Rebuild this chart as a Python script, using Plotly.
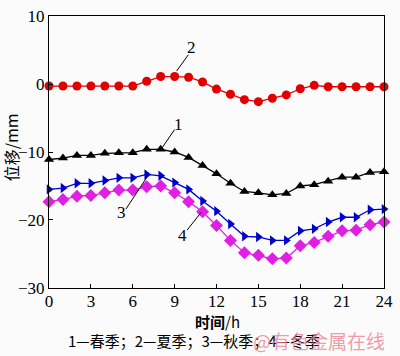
import plotly.graph_objects as go

hours = list(range(25))
x_ticks = [0, 3, 6, 9, 12, 15, 18, 21, 24]
y_ticks = [10, 0, -10, -20, -30]

spring = [-11.1, -10.9, -10.5, -10.5, -10.2, -10.1, -10.1, -9.6, -9.6, -10.0, -10.8,
          -12.0, -13.2, -14.6, -15.8, -16.0, -16.3, -16.1, -15.0, -14.8, -14.3,
          -13.7, -13.7, -13.0, -12.9]
summer = [-0.3, -0.3, -0.3, -0.3, -0.3, -0.3, -0.3, 0.4, 1.1, 1.1, 1.0,
          0.3, -0.75, -1.5, -2.3, -2.6, -2.1, -1.6, -0.7, -0.2, -0.4,
          -0.4, -0.4, -0.4, -0.4]
autumn = [-15.5, -15.3, -14.6, -14.6, -14.2, -13.8, -13.8, -13.3, -13.5, -14.5, -15.5,
          -17.2, -18.7, -20.6, -22.4, -22.5, -23.0, -23.0, -21.6, -21.3, -20.3,
          -19.6, -19.6, -18.5, -18.4]
winter = [-17.3, -17.0, -16.5, -16.4, -16.0, -15.6, -15.6, -15.1, -15.0, -16.0, -17.3,
          -18.8, -20.8, -23.0, -24.8, -25.2, -25.7, -25.6, -23.8, -23.3, -22.4,
          -21.6, -21.5, -20.7, -20.3]

series = [
    (spring, "#000000", "triangle-up", 9),
    (summer, "#e00000", "circle", 9),
    (autumn, "#0000cc", "triangle-right", 9),
    (winter, "#e020e0", "diamond", 10),
]

fig = go.Figure()
for vals, col, sym, sz in series:
    fig.add_trace(go.Scatter(x=hours, y=vals, mode="lines+markers",
                             line=dict(color=col, width=1.3),
                             marker=dict(symbol=sym, size=sz, color=col),
                             showlegend=False, cliponaxis=False))

serif = "Liberation Serif"
cjk = "Noto Sans CJK SC"

# label annotations: (text, text x, text y, line start, line end)
labels = [
    ("2", 10.2, 5.4, (9.98, 4.3), (9.14, 1.9)),
    ("1", 9.28, -6.0, (9.0, -6.7), (8.03, -9.6)),
    ("3", 5.16, -18.9, (5.51, -18.4), (7.05, -13.6)),
    ("4", 9.56, -22.3, (9.89, -21.5), (10.89, -18.9)),
]
for t, tx, ty, p0, p1 in labels:
    fig.add_annotation(x=tx, y=ty, text=t, showarrow=False,
                       font=dict(family=serif, size=17, color="black"))
    fig.add_shape(type="line", x0=p0[0], y0=p0[1], x1=p1[0], y1=p1[1],
                  line=dict(color="black", width=1))

fig.add_annotation(xref="paper", yref="paper", x=0.502, y=-0.123,
                   xanchor="center", yanchor="middle",
                   text="<b>时间</b>/h", showarrow=False,
                   font=dict(family=cjk, size=15, color="black"))
fig.add_annotation(xref="paper", yref="paper", x=-0.113, y=0.518,
                   xanchor="center", yanchor="middle",
                   text="位移/mm", textangle=-90, showarrow=False,
                   font=dict(family=cjk, size=16, color="black"))
fig.add_annotation(xref="paper", yref="paper", x=0.433, y=-0.193,
                   xanchor="center", yanchor="middle",
                   text="1—春季；2—夏季；3—秋季；4—冬季", showarrow=False,
                   font=dict(family=cjk, size=15, color="black"))
fig.add_annotation(xref="paper", yref="paper", x=0.805, y=-0.193,
                   xanchor="center", yanchor="middle",
                   text="@有色金属在线", showarrow=False,
                   font=dict(family=cjk, size=19, color="rgba(235,130,150,0.8)"))

axis_common = dict(showline=True, linecolor="black", linewidth=1.2, mirror=True,
                   ticks="inside", ticklen=4, tickcolor="black", showgrid=False,
                   zeroline=False, ticklabeloverflow="allow",
                   tickfont=dict(family=serif, size=17, color="black"))
fig.update_xaxes(range=[-0.001, 24.001], tickvals=x_ticks, ticklabelstandoff=-3,
                 **axis_common)
fig.update_yaxes(range=[-30.002, 10.002], tickvals=y_ticks,
                 ticktext=[str(v).replace("-", "−") for v in y_ticks], **axis_common)

fig.update_layout(width=400, height=356, margin=dict(l=49, r=7, t=8, b=68),
                  paper_bgcolor="#fbfbfb", plot_bgcolor="#fbfbfb")
fig.write_html("out.html", config={"displayModeBar": False},
               post_script="document.body.style.margin='0';document.body.style.overflow='hidden';")
